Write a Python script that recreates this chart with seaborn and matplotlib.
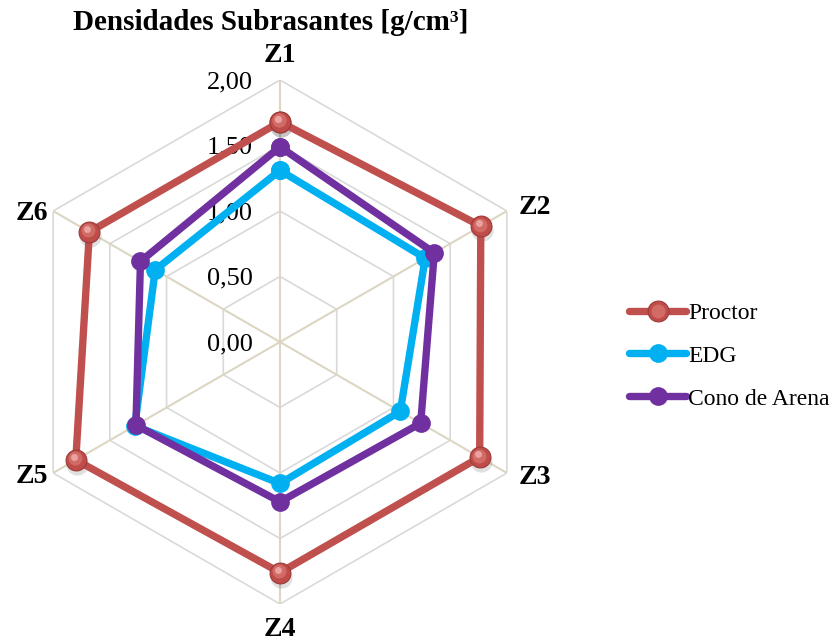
import numpy as np
import pandas as pd
import seaborn as sns
import matplotlib
matplotlib.use("Agg")
import matplotlib.pyplot as plt
from matplotlib.lines import Line2D
from matplotlib.transforms import offset_copy
from matplotlib.legend_handler import HandlerTuple

# Data
zonas = ["Z1", "Z2", "Z3", "Z4", "Z5", "Z6"]
proctor = [1.68, 1.77, 1.76, 1.76, 1.80, 1.68]
edg = [1.31, 1.28, 1.06, 1.08, 1.28, 1.10]
cono_arena = [1.49, 1.36, 1.24, 1.22, 1.27, 1.23]
series = ["Proctor", "EDG", "Cono de Arena"]
niveles = [0.0, 0.5, 1.0, 1.5, 2.0]
etiquetas_niveles = ["0,00", "0,50", "1,00", "1,50", "2,00"]
titulo = "Densidades Subrasantes [g/cm³]"

colores = {"Proctor": "#c0504d", "EDG": "#00b0f0", "Cono de Arena": "#7030a0"}

sns.set_theme(style="white")
plt.rcParams["font.family"] = ["Liberation Serif", "DejaVu Serif"]
plt.rcParams["text.color"] = "black"

n = len(zonas)
angulos = np.linspace(0, 2 * np.pi, n, endpoint=False)
ang_cerrado = np.append(angulos, angulos[0])

# long table, each polygon closed on its first zone
valores = {"Proctor": proctor, "EDG": edg, "Cono de Arena": cono_arena}
filas = []
for s in series:
    v = valores[s]
    for i in list(range(n)) + [0]:
        filas.append({"serie": s, "zona": zonas[i], "theta": angulos[i], "valor": v[i]})
df = pd.DataFrame(filas)

DPI = 100
fig = plt.figure(figsize=(8.38, 6.43), dpi=DPI)
W, H = 838, 643
cx, cy, R = 280, 342, 262
ax = fig.add_axes([(cx - R) / W, (H - cy - R) / H, 2 * R / W, 2 * R / H], projection="polar")
ax.set_theta_offset(np.pi / 2)
ax.set_theta_direction(-1)
ax.set_ylim(0, 2.0)
ax.set_xticks([])
ax.set_yticks([])
ax.grid(False)
ax.spines["polar"].set_visible(False)
ax.patch.set_alpha(0)

# hexagonal grid
for lvl in niveles[1:]:
    ax.plot(ang_cerrado, [lvl] * (n + 1), color="#d9d9d9", lw=1.2, zorder=1)
for a in angulos:
    ax.plot([a, a], [0, 2.0], color="#dcd6c2", lw=1.5, zorder=1.5)

# level labels along the Z1 spoke
for lvl, txt in zip(niveles, etiquetas_niveles):
    ax.annotate(txt, xy=(0, lvl), xytext=(-27, -2), textcoords="offset pixels",
                ha="right", va="center", fontsize=19, color="black", zorder=2)

# zone labels
desplaz = {
    "Z1": (0, 25, "center"), "Z2": (12, 4, "left"), "Z3": (12, -5, "left"),
    "Z4": (0, -26, "center"), "Z5": (-5, -3, "right"), "Z6": (-5, -2, "right"),
}
for a, z in zip(angulos, zonas):
    dx, dy, ha = desplaz[z]
    ax.annotate(z, xy=(a, 2.0), xytext=(dx, dy), textcoords="offset pixels",
                ha=ha, va="center", fontsize=20, fontweight="bold", color="black")

LW = 5.3
# series lines
for k, s in enumerate(series):
    sub = df[df["serie"] == s]
    es_proctor = s == "Proctor"
    sns.lineplot(data=sub, x="theta", y="valor", sort=False, estimator=None, ax=ax,
                 color=colores[s], lw=LW, marker="o",
                 markersize=15 if es_proctor else 13.5,
                 markeredgewidth=0.8 if es_proctor else 0,
                 markeredgecolor="#9c3b39" if es_proctor else colores[s],
                 markerfacecolor="#bf4c49" if es_proctor else colores[s],
                 legend=False, zorder=3 + k)

# shaded sphere look for the Proctor markers
sub = df[df["serie"] == "Proctor"]
sombra = offset_copy(ax.transData, fig=fig, x=1, y=-4, units="dots")
ax.plot(sub["theta"], sub["valor"], ls="none", marker="o", markersize=16, color="#000000",
        alpha=0.12, markeredgewidth=0, transform=sombra, zorder=2.5)
brillo1 = offset_copy(ax.transData, fig=fig, x=-1, y=1.5, units="dots")
ax.plot(sub["theta"], sub["valor"], ls="none", marker="o", markersize=10, color="#d26a66",
        markeredgewidth=0, transform=brillo1, zorder=3.1)
brillo2 = offset_copy(ax.transData, fig=fig, x=-2, y=3, units="dots")
ax.plot(sub["theta"], sub["valor"], ls="none", marker="o", markersize=5, color="#e9a29f",
        markeredgewidth=0, transform=brillo2, zorder=3.2)

# legend
h_proctor = (
    Line2D([], [], color=colores["Proctor"], lw=LW, marker="o", markersize=15,
           markerfacecolor="#bf4c49", markeredgecolor="#9c3b39", markeredgewidth=0.8),
    Line2D([], [], ls="none", marker="o", markersize=10, color="#d26a66", markeredgewidth=0),
)
h_edg = Line2D([], [], color=colores["EDG"], lw=LW, marker="o", markersize=13.5, markeredgewidth=0)
h_cono = Line2D([], [], color=colores["Cono de Arena"], lw=LW, marker="o", markersize=13.5,
                markeredgewidth=0)
leg = fig.legend([h_proctor, h_edg, h_cono], series, loc="center left",
                 bbox_to_anchor=(608 / W, 1 - 356 / H), frameon=False, fontsize=17,
                 handlelength=2.4, handletextpad=0.1, labelspacing=0.9,
                 handler_map={tuple: HandlerTuple(ndivide=1)})
for t in leg.get_texts():
    t.set_color("black")

fig.text(271 / W, 1 - 23 / H, titulo, ha="center", va="center",
         fontsize=21, fontweight="bold", color="black")

fig.savefig("out.png", dpi=DPI, facecolor="white")
